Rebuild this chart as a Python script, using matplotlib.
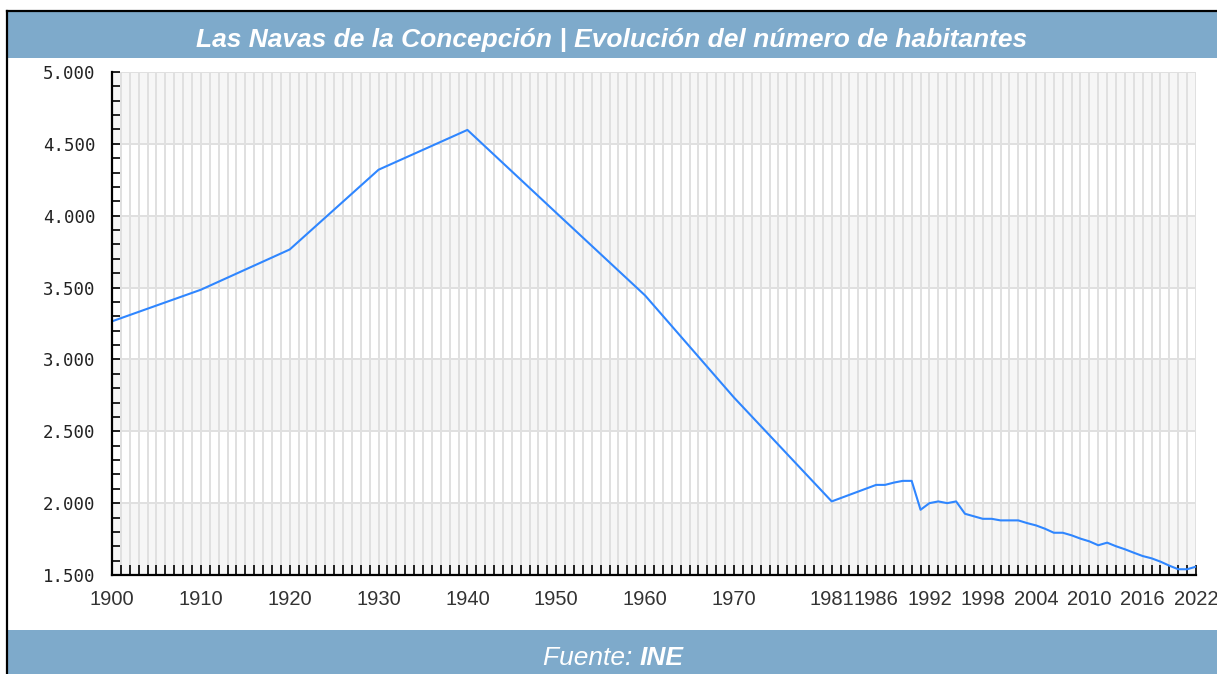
import matplotlib
matplotlib.use("Agg")
import matplotlib.pyplot as plt
from matplotlib.patches import Rectangle
from matplotlib.lines import Line2D
from matplotlib.ticker import MultipleLocator, FixedLocator, FuncFormatter

# Population of Las Navas de la Concepción (INE)
years = [1900, 1910, 1920, 1930, 1940, 1950, 1960, 1970, 1981,
         1986, 1987, 1988, 1989, 1990, 1991, 1992, 1993, 1994, 1995, 1996,
         1998, 1999, 2000, 2001, 2002, 2003, 2004, 2005, 2006, 2007, 2008,
         2009, 2010, 2011, 2012, 2013, 2014, 2015, 2016, 2017, 2018, 2019,
         2020, 2021, 2022]
habitantes = [3265, 3485, 3765, 4320, 4597, 4020, 3445, 2735, 2012,
              2127, 2127, 2143, 2155, 2155, 1954, 2000, 2012, 2000, 2012, 1926,
              1891, 1891, 1880, 1880, 1880, 1861, 1845, 1822, 1794, 1794, 1776,
              1753, 1734, 1707, 1725, 1700, 1679, 1655, 1632, 1616, 1593, 1565,
              1540, 1540, 1558]
tick_years = [1900, 1910, 1920, 1930, 1940, 1950, 1960, 1970, 1981,
              1986, 1992, 1998, 2004, 2010, 2016, 2022]

title = "Las Navas de la Concepción | Evolución del número de habitantes"

W, H = 1217, 674
BAND = "#7eaacb"
fig = plt.figure(figsize=(W / 100, H / 100), dpi=100)
fig.patch.set_facecolor("white")


def fx(px):
    return px / W


def fy(py):
    return 1 - py / H


# header and footer banners
fig.add_artist(Rectangle((fx(7), fy(58)), fx(W), 46 / H, transform=fig.transFigure,
                         facecolor=BAND, edgecolor="none", zorder=0))
fig.add_artist(Rectangle((fx(7), 0), fx(W), 44 / H, transform=fig.transFigure,
                         facecolor=BAND, edgecolor="none", zorder=0))
# frame lines (left and top)
fig.add_artist(Line2D([fx(7), fx(7)], [0, fy(11)], transform=fig.transFigure,
                      color="black", lw=1.6))
fig.add_artist(Line2D([fx(7), 1], [fy(11), fy(11)], transform=fig.transFigure,
                      color="black", lw=1.6))

fig.text(fx(612), fy(40.5), title, ha="center", va="center", color="white",
         fontsize=19, fontweight="bold", style="italic", family="Liberation Sans")

fig.text(fx(640), fy(658), "Fuente: ", ha="right", va="center", color="white",
         fontsize=19, style="italic", family="Liberation Sans")
fig.text(fx(640), fy(658), "INE", ha="left", va="center", color="white",
         fontsize=19, style="italic", fontweight="bold", family="Liberation Sans")

ax = fig.add_axes([fx(112), fy(575), fx(1196) - fx(112), (575 - 72) / H])
ax.set_xlim(1900, 2022)
ax.set_ylim(1500, 5000)
ax.set_facecolor("white")

# alternating horizontal bands
for lo in range(1500, 5000, 1000):
    ax.axhspan(lo, lo + 500, color="#f6f6f6", lw=0, zorder=0)

# yearly vertical grid and major horizontal grid
for yr in range(1901, 2023):
    ax.axvline(yr, color="#e0e0e0", lw=1.4, zorder=1)
for v in range(2000, 5001, 500):
    ax.axhline(v, color="#e0e0e0", lw=1.4, zorder=1)

ax.plot(years, habitantes, color="#2f86ff", lw=1.5, zorder=3)

for s in ("top", "right"):
    ax.spines[s].set_visible(False)
for s in ("left", "bottom"):
    ax.spines[s].set_linewidth(1.6)
    ax.spines[s].set_color("black")
    ax.spines[s].set_zorder(4)

ax.xaxis.set_major_locator(FixedLocator(tick_years))
ax.xaxis.set_minor_locator(MultipleLocator(1))
ax.yaxis.set_major_locator(MultipleLocator(500))
ax.yaxis.set_minor_locator(MultipleLocator(100))
ax.yaxis.set_major_formatter(FuncFormatter(lambda v, p: f"{int(v):,}".replace(",", ".")))

ax.tick_params(axis="x", which="both", direction="in", length=7, width=1.2,
               color="black", pad=11, labelsize=14.5, labelcolor="#333333",
               labelfontfamily="Liberation Sans")
ax.tick_params(axis="y", which="both", direction="in", length=5.5, width=1.2,
               color="black", pad=12, labelsize=12.5, labelcolor="#222222",
               labelfontfamily="DejaVu Sans Mono")

fig.savefig("out.png", dpi=100, facecolor="white")
